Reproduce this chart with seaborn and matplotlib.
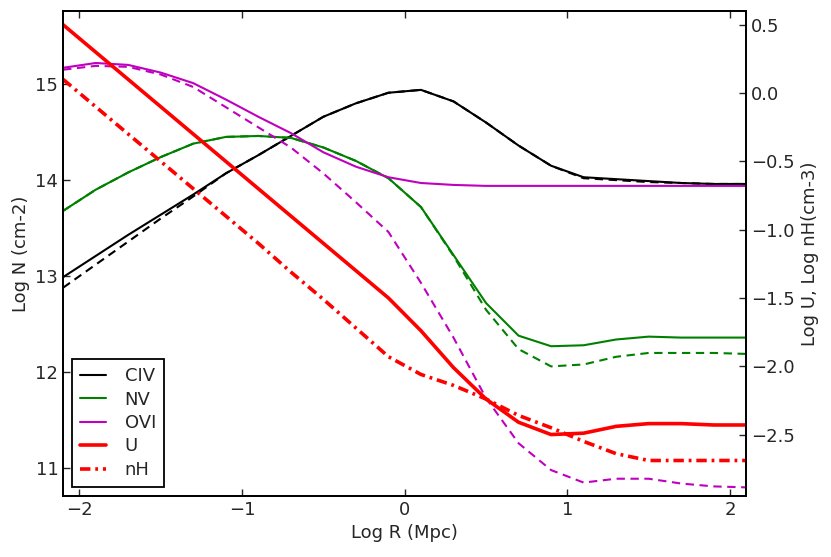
import matplotlib
matplotlib.use("Agg")
import matplotlib.pyplot as plt
import seaborn as sns

# radius grid (log Mpc)
log_r = [-2.1, -1.9, -1.7, -1.5, -1.3, -1.1, -0.9, -0.7, -0.5, -0.3, -0.1,
         0.1, 0.3, 0.5, 0.7, 0.9, 1.1, 1.3, 1.5, 1.7, 1.9, 2.1]

# column densities, solid and dashed runs
civ = [12.99, 13.21, 13.43, 13.64, 13.85, 14.07, 14.26, 14.46, 14.66, 14.80, 14.91,
       14.94, 14.82, 14.60, 14.36, 14.15, 14.03, 14.01, 13.99, 13.97, 13.96, 13.96]
civ_dash = [12.88, 13.12, 13.36, 13.60, 13.83, 14.07, 14.26, 14.46, 14.66, 14.80, 14.91,
            14.94, 14.82, 14.60, 14.36, 14.15, 14.02, 14.00, 13.98, 13.97, 13.96, 13.96]
nv = [13.68, 13.90, 14.08, 14.24, 14.38, 14.45, 14.46, 14.44, 14.34, 14.20, 14.02,
      13.72, 13.22, 12.72, 12.38, 12.27, 12.28, 12.34, 12.37, 12.36, 12.36, 12.36]
nv_dash = [13.68, 13.90, 14.08, 14.24, 14.38, 14.45, 14.46, 14.44, 14.34, 14.20, 14.02,
           13.72, 13.21, 12.65, 12.24, 12.06, 12.08, 12.16, 12.20, 12.20, 12.20, 12.19]
ovi = [15.17, 15.22, 15.20, 15.12, 15.01, 14.84, 14.66, 14.49, 14.29, 14.14, 14.03,
       13.97, 13.95, 13.94, 13.94, 13.94, 13.94, 13.94, 13.94, 13.94, 13.94, 13.94]
ovi_dash = [15.15, 15.19, 15.18, 15.10, 14.97, 14.76, 14.55, 14.34, 14.07, 13.77, 13.46,
            12.93, 12.36, 11.73, 11.26, 10.98, 10.85, 10.89, 10.89, 10.84, 10.81, 10.80]

# ionisation parameter and density (right axis)
log_u = [0.50, 0.30, 0.10, -0.10, -0.30, -0.50, -0.70, -0.90, -1.10, -1.30, -1.50,
         -1.74, -2.01, -2.24, -2.41, -2.50, -2.49, -2.44, -2.42, -2.42, -2.43, -2.43]
log_nh = [0.10, -0.10, -0.30, -0.50, -0.70, -0.90, -1.10, -1.31, -1.51, -1.72, -1.93,
          -2.06, -2.14, -2.24, -2.36, -2.45, -2.55, -2.64, -2.69, -2.69, -2.69, -2.69]

sns.set_style("ticks", {"xtick.direction": "in", "ytick.direction": "in",
                        "axes.edgecolor": "black"})
plt.rcParams["font.family"] = ["DejaVu Sans"]
plt.rcParams["font.size"] = 13
plt.rcParams["lines.scale_dashes"] = False

fig, ax = plt.subplots(figsize=(8.31, 5.57), dpi=100)
fig.subplots_adjust(left=0.076, right=0.898, top=0.980, bottom=0.1095)
ax2 = ax.twinx()

sns.lineplot(x=log_r, y=civ, ax=ax, color="k", lw=1.5, label="CIV", legend=False)
sns.lineplot(x=log_r, y=civ_dash, ax=ax, color="k", lw=1.5, legend=False)
sns.lineplot(x=log_r, y=nv, ax=ax, color="g", lw=1.5, label="NV", legend=False)
sns.lineplot(x=log_r, y=nv_dash, ax=ax, color="g", lw=1.5, legend=False)
sns.lineplot(x=log_r, y=ovi, ax=ax, color="m", lw=1.5, label="OVI", legend=False)
sns.lineplot(x=log_r, y=ovi_dash, ax=ax, color="m", lw=1.5, legend=False)
ax.lines[1].set_dashes((6, 4))
ax.lines[3].set_dashes((6, 4))
ax.lines[5].set_dashes((6, 4))

sns.lineplot(x=log_r, y=log_u, ax=ax2, color="r", lw=2.6, label="U", legend=False)
sns.lineplot(x=log_r, y=log_nh, ax=ax2, color="r", lw=2.6, label="nH", legend=False)
ax2.lines[1].set_dashes((7.5, 3.5, 2, 3.5))

ax.set_xlim(-2.1, 2.1)
ax.set_ylim(10.71, 15.76)
ax2.set_ylim(-2.95, 0.6)
ax.set_xticks([-2, -1, 0, 1, 2])
ax.set_yticks([11, 12, 13, 14, 15])
ax2.set_yticks([-2.5, -2.0, -1.5, -1.0, -0.5, 0.0, 0.5])
ax.tick_params(axis="x", top=True, length=5, width=1)
ax.tick_params(axis="y", length=5, width=1)
ax2.tick_params(axis="y", length=5, width=1)
for a in (ax, ax2):
    for s in a.spines.values():
        s.set_linewidth(1.3)

ax.set_xlabel("Log R (Mpc)")
ax.set_ylabel("Log N (cm-2)")
ax2.set_ylabel("Log U, Log nH(cm-3)")

h1, l1 = ax.get_legend_handles_labels()
h2, l2 = ax2.get_legend_handles_labels()
leg = ax2.legend(h1 + h2, l1 + l2, loc="lower left", fancybox=False,
                 edgecolor="black", framealpha=1, fontsize=13,
                 borderaxespad=0.5, handlelength=1.45, handletextpad=1.0,
                 labelspacing=0.3, borderpad=0.45)
leg.get_frame().set_linewidth(1.3)

fig.savefig("out.png", dpi=100)
